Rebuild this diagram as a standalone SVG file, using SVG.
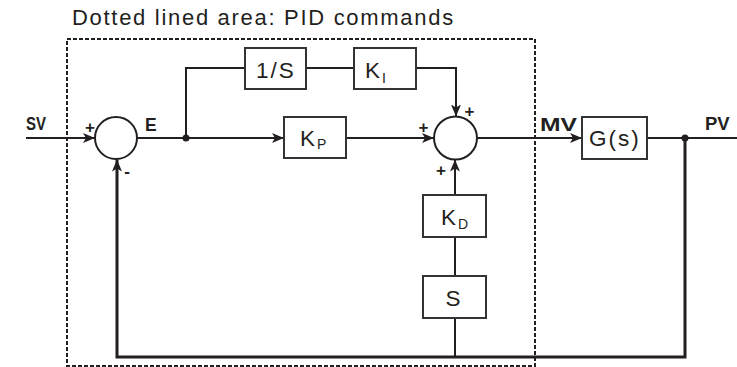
<svg xmlns="http://www.w3.org/2000/svg" width="737" height="367" viewBox="0 0 737 367">
<style>
  .ln{fill:none;stroke:#231f20;stroke-width:2}
  .fb{fill:none;stroke:#231f20;stroke-width:3}
  .box{fill:#fff;stroke:#333;stroke-width:2}
  .sum{fill:#fff;stroke:#231f20;stroke-width:2}
  .dash{fill:none;stroke:#231f20;stroke-width:2;stroke-dasharray:4 2}
  .t{font-family:"Liberation Sans",Arial,sans-serif;fill:#231f20;font-size:22.5px;letter-spacing:2px}
  .sub{font-size:14px;letter-spacing:0}
  .b{font-family:"Liberation Sans",Arial,sans-serif;fill:#231f20;font-weight:bold}
  .sg{font-family:"Liberation Sans",Arial,sans-serif;fill:#231f20;font-weight:bold;font-size:17px;text-anchor:middle}
</style>
<defs>
  <marker id="ar" viewBox="0 0 12 10" refX="12" refY="5" markerWidth="12" markerHeight="10" markerUnits="userSpaceOnUse" orient="auto">
    <path d="M0,0 L12,5 L0,10 L3,5 z" fill="#231f20"/>
  </marker>
</defs>
<rect width="737" height="367" fill="#fff"/>
<text class="t" x="72" y="25" style="font-size:22px;letter-spacing:1.7px">Dotted lined area: PID commands</text>
<rect id="pid-area" class="dash" x="67" y="39" width="468" height="327"/>
<g id="connectors">
  <line class="ln" x1="26" y1="138" x2="95" y2="138" marker-end="url(#ar)"/>
  <line class="ln" x1="137" y1="138" x2="284" y2="138" marker-end="url(#ar)"/>
  <polyline class="ln" points="186,138 186,68 245,68"/>
  <line class="ln" x1="306" y1="68" x2="354" y2="68"/>
  <polyline class="ln" points="416,68 456,68 456,116.5" marker-end="url(#ar)"/>
  <line class="ln" x1="346" y1="138" x2="434" y2="138" marker-end="url(#ar)"/>
  <line class="ln" x1="477" y1="138" x2="582" y2="138" marker-end="url(#ar)"/>
  <line class="ln" x1="647" y1="138" x2="737" y2="138"/>
  <polyline class="fb" points="685,138 685,357 117,357 117,159.5" marker-end="url(#ar)"/>
  <line class="ln" x1="455" y1="357" x2="455" y2="318"/>
  <line class="ln" x1="455" y1="276" x2="455" y2="237"/>
  <line class="ln" x1="455" y1="195" x2="455" y2="159.5" marker-end="url(#ar)"/>
  <circle cx="186" cy="138" r="3.5" fill="#231f20"/>
  <circle cx="685" cy="138" r="3.5" fill="#231f20"/>
</g>
<g id="sum1">
  <circle class="sum" cx="116" cy="138" r="21"/>
  <text class="sg" x="90" y="133">+</text>
  <text class="sg" x="127" y="177">-</text>
</g>
<g id="sum2">
  <circle class="sum" cx="455.5" cy="138" r="21.5"/>
  <text class="sg" x="423.5" y="133">+</text>
  <text class="sg" x="469.5" y="116.5">+</text>
  <text class="sg" x="441" y="176">+</text>
</g>
<g id="integ">
  <rect class="box" x="245" y="48" width="61" height="41"/>
  <text class="t" x="256" y="77.5">1/S</text>
</g>
<g id="ki">
  <rect class="box" x="354" y="48" width="62" height="41"/>
  <text class="t" x="365" y="77.5">K<tspan class="sub" dy="5">I</tspan></text>
</g>
<g id="kp">
  <rect class="box" x="284" y="117" width="62" height="41"/>
  <text class="t" x="300" y="145.5">K<tspan class="sub" dy="3.5">P</tspan></text>
</g>
<g id="plant">
  <rect class="box" x="582" y="117" width="65" height="42"/>
  <text class="t" x="589" y="146">G(s)</text>
</g>
<g id="kd">
  <rect class="box" x="423" y="195" width="63" height="42"/>
  <text class="t" x="441" y="225">K<tspan class="sub" dy="3.5">D</tspan></text>
</g>
<g id="deriv">
  <rect class="box" x="423" y="276" width="63" height="42"/>
  <text class="t" x="445.5" y="305.5">S</text>
</g>
<g id="labels">
  <text class="b" x="26" y="130" font-size="18" textLength="20" lengthAdjust="spacingAndGlyphs">SV</text>
  <text class="b" x="145" y="130.5" font-size="17.5">E</text>
  <text class="b" x="540" y="131" font-size="19" textLength="37" lengthAdjust="spacingAndGlyphs">MV</text>
  <text class="b" x="705" y="129.5" font-size="18.5">PV</text>
</g>
</svg>
